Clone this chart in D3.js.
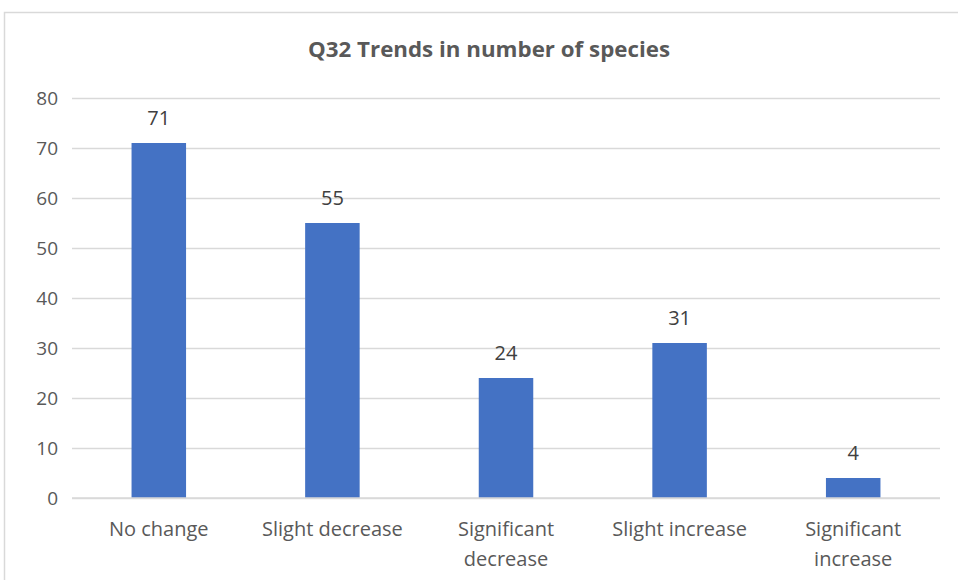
<!DOCTYPE html>
<html><head><meta charset="utf-8">
<script src="https://cdn.jsdelivr.net/npm/d3@7"></script>
<style>body{margin:0;background:#fff}svg{display:block}</style>
</head><body>
<script>
const categories = [["No change"], ["Slight decrease"], ["Significant", "decrease"], ["Slight increase"], ["Significant", "increase"]];
const values = [71, 55, 24, 31, 4];
const yTicks = [0, 10, 20, 30, 40, 50, 60, 70, 80];
const title = "Q32 Trends in number of species";

const W = 958, H = 580;
const font = "'Open Sans', 'Noto Sans', sans-serif";
const svg = d3.select("body").append("svg").attr("width", W).attr("height", H);
svg.append("rect").attr("x", 4.5).attr("y", 12.5).attr("width", 960).attr("height", 580)
  .attr("fill", "#fff").attr("stroke", "#d9d9d9").attr("stroke-width", 1.5);

const m = {left: 72, right: 940, top: 98, bottom: 498};
const keys = categories.map((c, i) => i);
const x = d3.scaleBand().domain(keys).range([m.left, m.right]).paddingInner(0.686).paddingOuter(0.343);
const y = d3.scaleLinear().domain([0, 80]).range([m.bottom, m.top]);

svg.append("text").attr("x", 489).attr("y", 57).attr("text-anchor", "middle")
  .attr("font-family", font).attr("font-weight", "bold").attr("font-size", 21)
  .attr("fill", "#595959").attr("textLength", 362).attr("lengthAdjust", "spacingAndGlyphs").text(title);

const yAxis = svg.append("g").attr("transform", `translate(${m.left},0)`)
  .call(d3.axisLeft(y).tickValues(yTicks).tickSize(-(m.right - m.left)).tickPadding(14));
yAxis.select(".domain").remove();
yAxis.selectAll(".tick line").attr("stroke", "#d9d9d9").attr("stroke-width", 1.5);
yAxis.selectAll(".tick text").attr("font-family", font).attr("font-size", 19).attr("fill", "#595959");

svg.append("g").selectAll("rect").data(values).join("rect")
  .attr("x", (d, i) => x(i)).attr("width", x.bandwidth())
  .attr("y", d => y(d)).attr("height", d => y(0) - y(d)).attr("fill", "#4472c4");

svg.append("line").attr("x1", m.left).attr("x2", m.right).attr("y1", y(0)).attr("y2", y(0))
  .attr("stroke", "#d9d9d9").attr("stroke-width", 1.5);

svg.append("g").selectAll("text").data(values).join("text")
  .attr("x", (d, i) => x(i) + x.bandwidth() / 2).attr("y", d => y(d) - 18)
  .attr("text-anchor", "middle").attr("font-family", font).attr("font-size", 20)
  .attr("fill", "#404040").text(d => d);

const xl = svg.append("g").selectAll("text").data(categories).join("text")
  .attr("text-anchor", "middle").attr("font-family", font).attr("font-size", 20).attr("fill", "#595959");
xl.each(function(lines, i) {
  d3.select(this).selectAll("tspan").data(lines).join("tspan")
    .attr("x", x(i) + x.bandwidth() / 2).attr("y", (l, j) => 536 + j * 30).text(l => l);
});
</script>
</body></html>
